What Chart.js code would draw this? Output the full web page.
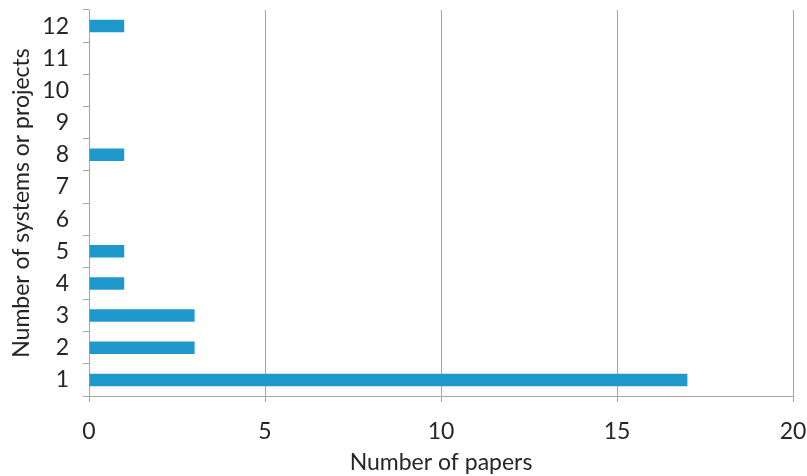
<!DOCTYPE html>
<html>
<head>
<meta charset="utf-8">
<script src="https://cdn.jsdelivr.net/npm/chart.js@4/dist/chart.umd.min.js"></script>
<style>
  html, body { margin: 0; padding: 0; background: #ffffff; }
  #wrap { width: 807px; height: 476px; }
</style>
</head>
<body>
<div id="wrap"><canvas id="chart" width="807" height="476"></canvas></div>
<script>
// Number of systems or projects covered by a paper
const systemCounts = ['1', '2', '3', '4', '5', '6', '7', '8', '9', '10', '11', '12'];
// Number of papers for each system count
const paperCounts = [17, 3, 3, 1, 1, 0, 0, 1, 0, 0, 0, 1];
// Value axis ticks
const paperTicks = [0, 5, 10, 15, 20];

const axisGrey = '#a6a6a6';
const textColor = '#262626';
const fontFamily = "Lato, 'Open Sans', 'Liberation Sans', sans-serif";
const fontSize = 23;

new Chart(document.getElementById('chart'), {
  type: 'bar',
  data: {
    labels: systemCounts,
    datasets: [{
      data: paperCounts,
      backgroundColor: '#1f98cc',
      borderWidth: 0,
      barPercentage: 0.39,
      categoryPercentage: 1
    }]
  },
  options: {
    indexAxis: 'y',
    responsive: false,
    animation: false,
    layout: { padding: { left: 0, right: 14, top: 10, bottom: 0 } },
    plugins: { legend: { display: false }, tooltip: { enabled: false } },
    scales: {
      x: {
        min: paperTicks[0],
        max: paperTicks[paperTicks.length - 1],
        afterBuildTicks: (s) => { s.ticks = paperTicks.map(v => ({ value: v })); },
        afterFit: (s) => {
          s.height = 80;
          s.paddingLeft = 0;
          s.paddingRight = 0;
        },
        grid: { color: axisGrey, lineWidth: 1, tickLength: 6, drawTicks: true },
        border: { color: axisGrey, width: 1 },
        ticks: { color: textColor, padding: 16, font: { family: fontFamily, size: fontSize } },
        title: {
          display: true,
          text: 'Number of papers',
          color: textColor,
          font: { family: fontFamily, size: fontSize },
          padding: { top: 0, bottom: 0 }
        }
      },
      y: {
        reverse: true,
        afterFit: (s) => {
          s.width = 89;
          s.paddingTop = 0;
          s.paddingBottom = 0;
        },
        grid: { offset: true, drawOnChartArea: false, color: axisGrey, tickLength: 6 },
        border: { color: axisGrey, width: 1 },
        ticks: { color: textColor, padding: 14, font: { family: fontFamily, size: fontSize } },
        title: {
          display: true,
          text: 'Number of systems or projects',
          color: textColor,
          font: { family: fontFamily, size: fontSize },
          padding: { top: 8, bottom: 0 }
        }
      }
    }
  }
});
</script>
</body>
</html>
